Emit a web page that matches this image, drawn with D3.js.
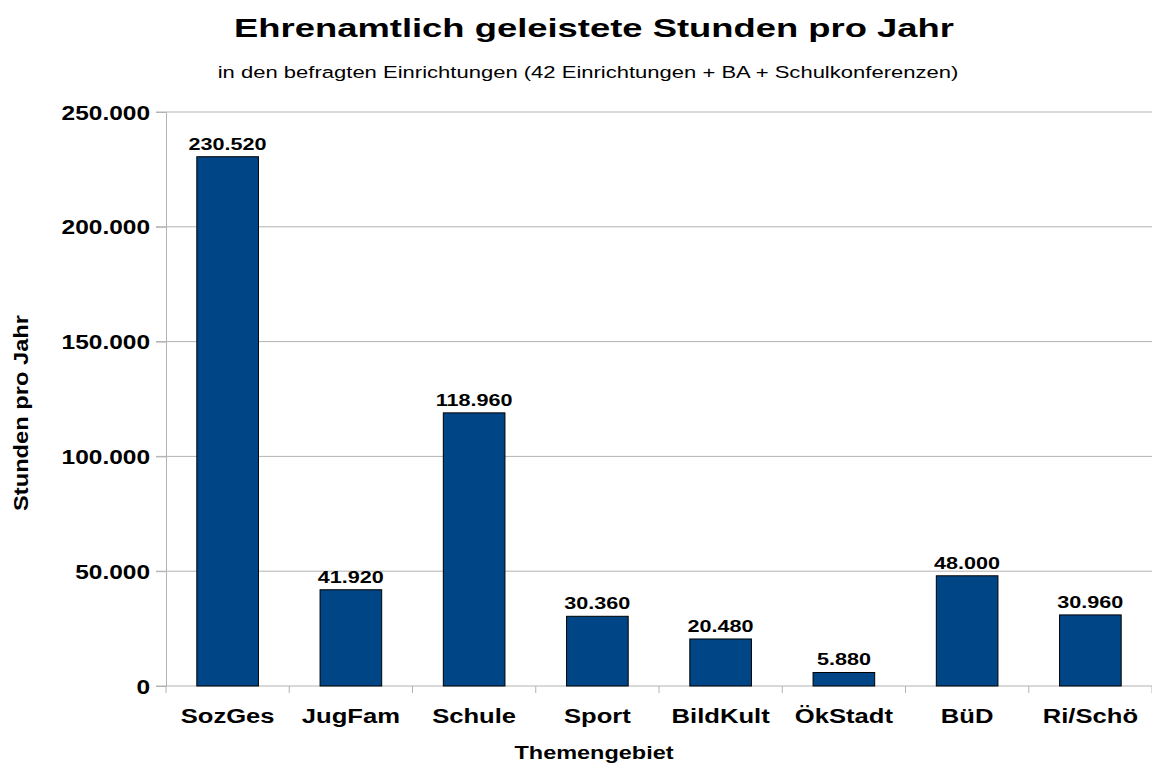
<!DOCTYPE html>
<html>
<head>
<meta charset="utf-8">
<script src="https://cdn.jsdelivr.net/npm/d3@7"></script>
<style>
  body { margin: 0; background: #fff; }
  svg text { font-family: "Liberation Sans", Arial, sans-serif; font-weight: bold; }
</style>
</head>
<body>
<div id="chart"></div>
<script>
const categories = ["SozGes", "JugFam", "Schule", "Sport", "BildKult", "ÖkStadt", "BüD", "Ri/Schö"];
const hours = [230520, 41920, 118960, 30360, 20480, 5880, 48000, 30960];
const yTicks = [0, 50000, 100000, 150000, 200000, 250000];

const W = 1152, H = 767;
const margin = { top: 112, right: 0, bottom: 81, left: 166 };
const width = W - margin.left - margin.right;
const height = H - margin.top - margin.bottom;

// deutsches Zahlenformat mit Punkt als Tausendertrenner
const de = d3.formatLocale({ decimal: ",", thousands: ".", grouping: [3], currency: ["", " €"] });
const fmt = de.format(",d");

const svg = d3.select("#chart")
    .append("svg")
    .attr("width", W)
    .attr("height", H);

// Schrift im Original ist horizontal gestreckt -> scale(sx,1)
function label(parent, x, y, size, sx, txt) {
    return parent.append("text")
        .attr("transform", `translate(${x},${y}) scale(${sx},1)`)
        .attr("text-anchor", "middle")
        .style("font-size", size + "px")
        .text(txt);
}

label(svg, 594, 37, 26, 1.4, "Ehrenamtlich geleistete Stunden pro Jahr");
label(svg, 588, 78, 16.5, 1.335, "in den befragten Einrichtungen (42 Einrichtungen + BA + Schulkonferenzen)")
    .style("font-weight", "normal");

const g = svg.append("g")
    .attr("transform", `translate(${margin.left},${margin.top})`);

const x = d3.scaleBand()
    .domain(categories)
    .range([0, width])
    .paddingInner(0.5)
    .paddingOuter(0.25);

const y = d3.scaleLinear()
    .domain([0, 250000])
    .range([height, 0]);

// Gitterlinien
g.append("g")
    .selectAll("line")
    .data(yTicks)
    .enter()
    .append("line")
    .attr("x1", -10)
    .attr("x2", width)
    .attr("y1", d => y(d))
    .attr("y2", d => y(d))
    .attr("stroke", "#b3b3b3")
    .attr("stroke-width", 1);

const yAxis = g.append("g")
    .call(d3.axisLeft(y).tickValues(yTicks).tickFormat(fmt).tickSize(10));
yAxis.select(".domain").attr("stroke", "#b3b3b3");
yAxis.selectAll(".tick line").attr("stroke", "#b3b3b3");
yAxis.selectAll("text")
    .attr("x", 0)
    .attr("dy", "0.36em")
    .attr("transform", "translate(-16,0) scale(1.255,1)")
    .style("font-size", "19.5px")
    .attr("fill", "#000");

// Kategorie-Trennstriche unter der Achse
const xs = d3.range(categories.length + 1).map(i => i * x.step());
g.append("g")
    .selectAll("line")
    .data(xs)
    .enter()
    .append("line")
    .attr("x1", d => d)
    .attr("x2", d => d)
    .attr("y1", height)
    .attr("y2", height + 7)
    .attr("stroke", "#b3b3b3");

const xAxis = g.append("g")
    .attr("transform", `translate(0,${height})`)
    .call(d3.axisBottom(x).tickSize(0));
xAxis.select(".domain").remove();
xAxis.selectAll("text")
    .attr("y", 0)
    .attr("dy", 0)
    .attr("transform", "translate(0,37) scale(1.28,1)")
    .style("font-size", "20px")
    .attr("fill", "#000");

g.selectAll(".bar")
    .data(hours)
    .enter()
    .append("rect")
    .attr("class", "bar")
    .attr("x", (d, i) => x(categories[i]))
    .attr("y", d => y(d))
    .attr("width", x.bandwidth())
    .attr("height", d => height - y(d))
    .attr("fill", "#004586")
    .attr("stroke", "#000")
    .attr("stroke-width", 1);

g.selectAll(".val")
    .data(hours)
    .enter()
    .append("text")
    .attr("class", "val")
    .attr("transform", (d, i) => `translate(${x(categories[i]) + x.bandwidth() / 2},${y(d) - 7}) scale(1.27,1)`)
    .attr("text-anchor", "middle")
    .style("font-size", "17px")
    .text(d => fmt(d));

label(svg, 594, 759, 18.5, 1.27, "Themengebiet");

svg.append("text")
    .attr("transform", "translate(28,413) rotate(-90) scale(1,1.3)")
    .attr("text-anchor", "middle")
    .attr("textLength", 196)
    .attr("lengthAdjust", "spacingAndGlyphs")
    .style("font-size", "16px")
    .text("Stunden pro Jahr");
</script>
</body>
</html>
